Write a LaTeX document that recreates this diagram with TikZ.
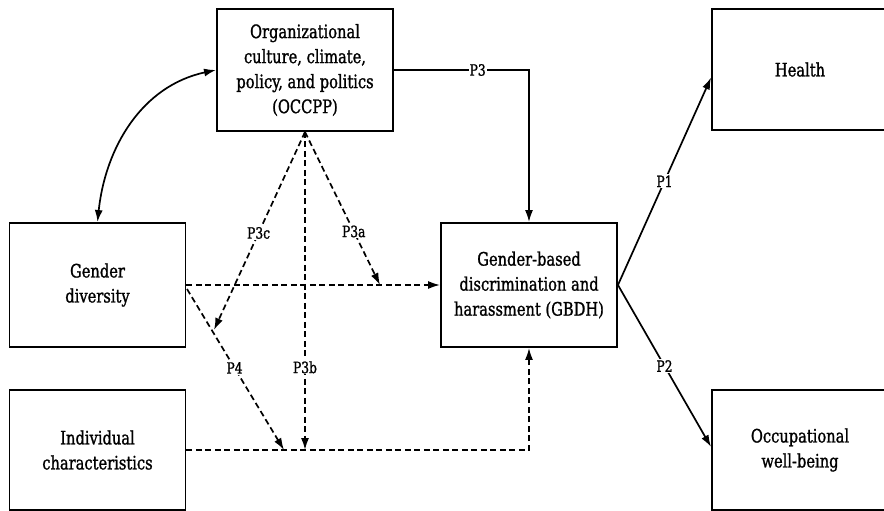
\documentclass[tikz,border=0pt]{standalone}
\usepackage{fontspec}
\setmainfont{DejaVu Serif Condensed}[FakeStretch=0.88, FakeBold=1.2]
\usetikzlibrary{arrows.meta}

\tikzset{
  box/.style={draw, line width=1.9pt, align=center, inner sep=2pt,
    minimum width=176pt, font=\fontsize{18.5}{25}\selectfont},
  solidarrow/.style={line width=1.7pt, -{Latex[length=12pt,width=8pt]}},
  dasharrow/.style={line width=1.7pt, dash pattern=on 6pt off 3.5pt, -{Latex[length=12pt,width=8pt]}},
  plabel/.style={fill=white, inner sep=1pt, font=\fontsize{15.5}{17}\selectfont},
}

\begin{document}
\begin{tikzpicture}[x=1pt, y=-1pt]
  \useasboundingbox (0,0) rectangle (884,511);
  \fill[white] (0,0) rectangle (884,511);
  \clip (0,0) rectangle (884,511);

  % boxes
  \node[box, minimum height=122pt] (occ) at (305,70)
    {Organizational\\culture, climate,\\policy, and politics\\(OCCPP)};
  \node[box, minimum height=124pt] (gd) at (97.5,285) {Gender\\diversity};
  \node[box, minimum height=120pt] (ic) at (97.5,450) {Individual\\characteristics};
  \node[box, minimum height=124pt] (gbdh) at (529,285)
    {Gender-based\\discrimination and\\harassment (GBDH)};
  \node[box, minimum height=121pt] (health) at (800,69.5) {Health};
  \node[box, minimum height=120pt] (ow) at (800,450) {Occupational\\well-being};

  % meeting points of the moderating paths
  \coordinate (p3a) at (380,285);
  \coordinate (p3c) at (214,330);
  \coordinate (p4s) at (187,289);
  \coordinate (p4e) at (284,450);
  \coordinate (p3be) at (305,450);

  % correlation between OCCPP and gender diversity
  \draw[line width=1.7pt, {Latex[length=12pt,width=8pt]}-{Latex[length=12pt,width=8pt]}]
    (gd.north) to[out=84, in=192] (occ.west);

  % direct path P3
  \draw[solidarrow] (occ.east) -| (gbdh.north)
    node[plabel, pos=0.31] {P3};

  % dashed predictors into GBDH
  \draw[dasharrow] (gd.east) -- (gbdh.west);
  \draw[dasharrow] (ic.east) -| (gbdh.south);

  % moderating paths from OCCPP
  \draw[dasharrow] (occ.south) -- (p3a) node[plabel, pos=0.65] {P3a};
  \draw[dasharrow] (occ.south) -- (p3c) node[plabel, pos=0.51] {P3c};
  \draw[dasharrow] (occ.south) -- (p3be) node[plabel, pos=0.74] {P3b};

  % moderating path from gender diversity
  \draw[dasharrow] (p4s) -- (p4e) node[plabel, pos=0.49] {P4};

  % outcomes
  \draw[solidarrow] (gbdh.east) -- ([yshift=-8pt]health.west)
    node[plabel, pos=0.5] {P1};
  \draw[solidarrow] (gbdh.east) -- ([yshift=3pt]ow.west)
    node[plabel, pos=0.5] {P2};
\end{tikzpicture}
\end{document}
